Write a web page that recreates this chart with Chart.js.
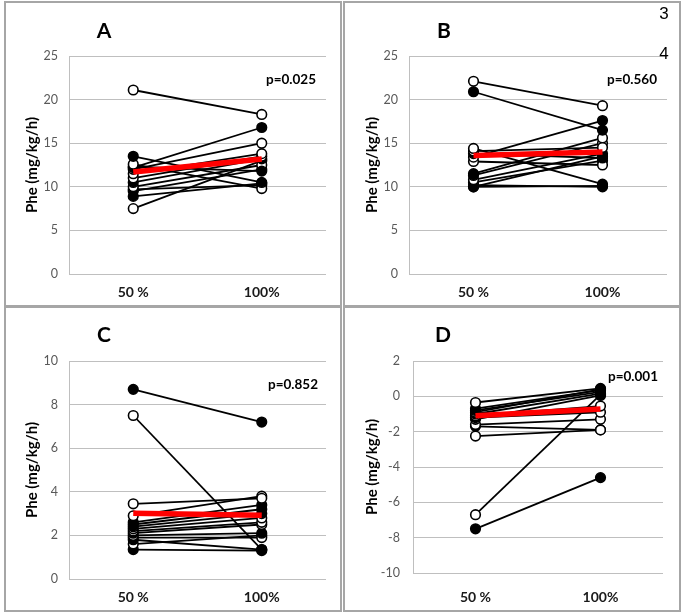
<!DOCTYPE html>
<html>
<head>
<meta charset="utf-8">
<script src="https://cdn.jsdelivr.net/npm/chart.js@4.4.1/dist/chart.umd.min.js"></script>
<style>
  html, body { margin: 0; padding: 0; background: #fff; }
  body { width: 685px; height: 613px; position: relative; overflow: hidden; font-family: Lato, "Open Sans", sans-serif; }
  .panel { position: absolute; box-sizing: border-box; border: 2px solid #a6a6a6; width: 338px; height: 306px; }
  .panel canvas { position: absolute; left: 0; top: 0; }
  .cw { position: absolute; left: 0; top: 0; width: 334px; height: 302px; }
  .letter { position: absolute; font-weight: bold; font-size: 21px; color: #000; transform: translate(-50%, -50%); }
  .pval { position: absolute; font-weight: bold; font-size: 13.5px; color: #000; transform: translateY(-50%); white-space: nowrap; }
  .stray { position: absolute; font-size: 17px; color: #000; transform: translate(-50%, -50%); font-family: "Liberation Sans", Arial, sans-serif; }
</style>
</head>
<body>
<div class="panel" style="left:4px;top:1px;"><div class="cw"><canvas id="cA"></canvas></div></div>
<div class="panel" style="left:343px;top:1px;"><div class="cw"><canvas id="cB"></canvas></div></div>
<div class="panel" style="left:4px;top:306px;"><div class="cw"><canvas id="cC"></canvas></div></div>
<div class="panel" style="left:343px;top:306px;"><div class="cw"><canvas id="cD"></canvas></div></div>

<div class="letter" style="left:104px;top:29px;">A</div>
<div class="letter" style="left:444px;top:29px;">B</div>
<div class="letter" style="left:104px;top:333px;">C</div>
<div class="letter" style="left:443px;top:333px;">D</div>

<div class="pval" style="left:266px;top:79px;">p=0.025</div>
<div class="pval" style="left:607px;top:79px;">p=0.560</div>
<div class="pval" style="left:268px;top:384px;">p=0.852</div>
<div class="pval" style="left:608px;top:376px;">p=0.001</div>

<div class="stray" style="left:664px;top:14px;">3</div>
<div class="stray" style="left:664px;top:54px;">4</div>

<script>
// ---- shared ----
const categories = ['50 %', '100%'];
const yTitle = 'Phe (mg/kg/h)';

// ---- Panel A ----
const aAt50  = [21.1, 13.5, 12.6, 12.2, 12.0, 11.5, 12.3, 11.0, 10.5, 10.0, 9.7, 9.5, 8.9, 7.5];
const aAt100 = [18.3, 10.5,  9.8, 16.8, 15.0, 13.8, 11.8, 13.5, 13.2, 12.5, 10.2, 12.0, 10.4, 13.0];
const aFill50  = [0, 1, 0, 1, 0, 0, 1, 0, 1, 0, 1, 1, 1, 0];
const aFill100 = [0, 1, 0, 1, 0, 0, 1, 0, 1, 0, 1, 1, 1, 0];
const aMean = [11.7, 13.2];
const aTicks = [0, 5, 10, 15, 20, 25];

// ---- Panel B ----
const bAt50  = [22.1, 20.9, 14.4, 14.1, 13.8, 13.4, 12.9, 11.5, 11.3, 10.8, 10.5, 10.2, 10.0, 10.0];
const bAt100 = [19.3, 16.5, 10.3, 14.5, 13.3, 17.6, 12.5, 15.6, 15.0, 13.8, 13.0, 10.0, 10.1, 13.5];
const bFill50  = [0, 1, 0, 0, 1, 0, 0, 1, 1, 0, 1, 1, 1, 1];
const bFill100 = [0, 1, 1, 0, 1, 1, 0, 0, 0, 1, 1, 1, 1, 0];
const bMean = [13.6, 14.0];
const bTicks = [0, 5, 10, 15, 20, 25];

// ---- Panel C ----
const cAt50  = [8.7, 7.5, 3.45, 2.9, 2.6, 2.5, 2.4, 2.3, 2.2, 2.1, 2.0, 1.9, 1.8, 1.6, 1.35];
const cAt100 = [7.2, 1.35, 3.7, 3.8, 3.4, 3.2, 3.0, 2.8, 2.6, 2.5, 2.1, 1.9, 1.35, 2.0, 1.3];
const cFill50  = [1, 0, 0, 0, 1, 1, 1, 0, 0, 1, 0, 1, 1, 0, 1];
const cFill100 = [1, 1, 0, 0, 1, 1, 1, 0, 0, 0, 1, 0, 1, 0, 1];
const cMean = [3.02, 2.93];
const cTicks = [0, 2, 4, 6, 8, 10];

// ---- Panel D ----
const dAt50  = [-0.35, -0.7, -0.8, -0.9, -1.0, -1.1, -1.2, -1.3, -1.6, -1.7, -2.25, -6.7, -7.5];
const dAt100 = [0.45, 0.35, 0.25, 0.4, 0.15, -0.55, -0.9, 0.05, -1.3, -1.9, -1.9, 0.1, -4.6];
const dFill50  = [0, 1, 1, 0, 1, 0, 1, 0, 0, 1, 0, 0, 1];
const dFill100 = [1, 1, 1, 1, 1, 0, 0, 1, 0, 0, 0, 1, 1];
const dMean = [-1.1, -0.72];
const dTicks = [-10, -8, -6, -4, -2, 0, 2];

function makePanel(id, at50, at100, fill50, fill100, mean, ticks, geo) {
  const datasets = [];
  datasets.push({
    data: mean,
    borderColor: '#ff0000',
    borderWidth: 5.5,
    pointRadius: 0,
    order: 0
  });
  for (let i = 0; i < at50.length; i++) {
    const fills = [fill50[i], fill100[i]].map(f => f ? '#000000' : '#ffffff');
    datasets.push({
      data: [at50[i], at100[i]],
      borderColor: '#000000',
      borderWidth: 1.8,
      pointRadius: 4.8,
      pointBorderWidth: 1.6,
      pointBorderColor: '#000000',
      pointBackgroundColor: fills,
      order: 1
    });
  }
  const step = ticks[1] - ticks[0];
  new Chart(document.getElementById(id), {
    type: 'line',
    data: { labels: categories, datasets },
    options: {
      responsive: true,
      maintainAspectRatio: false,
      animation: false,
      events: [],
      layout: { padding: { left: 0, top: geo.top, right: geo.right, bottom: 0 } },
      plugins: { legend: { display: false }, tooltip: { enabled: false }, title: { display: false } },
      scales: {
        x: {
          offset: true,
          grid: { display: false, drawTicks: false },
          border: { display: false },
          ticks: { color: '#1a1a1a', padding: geo.xPad, font: { family: 'Lato', size: 14, weight: 'bold' } },
          afterFit: s => { s.height = geo.xH; }
        },
        y: {
          min: ticks[0],
          max: ticks[ticks.length - 1],
          ticks: { stepSize: step, color: '#595959', padding: geo.yPad, font: { family: 'Lato', size: 12.5 } },
          grid: { color: '#bfbfbf', lineWidth: 1, drawTicks: false },
          border: { display: true, color: '#bfbfbf', width: 1 },
          title: { display: true, text: yTitle, color: '#000', padding: { top: geo.tPad, bottom: 0 }, font: { family: 'Lato', size: 15, weight: 'bold' } },
          afterFit: s => { s.width = geo.yW; }
        }
      }
    }
  });
}

makePanel('cA', aAt50, aAt100, aFill50, aFill100, aMean, aTicks, { top: 53, right: 14, xH: 31, xPad: 10, yW: 63, yPad: 11, tPad: 17 });
makePanel('cB', bAt50, bAt100, bFill50, bFill100, bMean, bTicks, { top: 53, right: 12, xH: 31, xPad: 10, yW: 64, yPad: 11, tPad: 18 });
makePanel('cC', cAt50, cAt100, cFill50, cFill100, cMean, cTicks, { top: 53, right: 14, xH: 31, xPad: 10, yW: 63, yPad: 11, tPad: 17 });
makePanel('cD', dAt50, dAt100, dFill50, dFill100, dMean, dTicks, { top: 53, right: 16, xH: 37, xPad: 16, yW: 68, yPad: 13, tPad: 18 });
</script>
</body>
</html>
